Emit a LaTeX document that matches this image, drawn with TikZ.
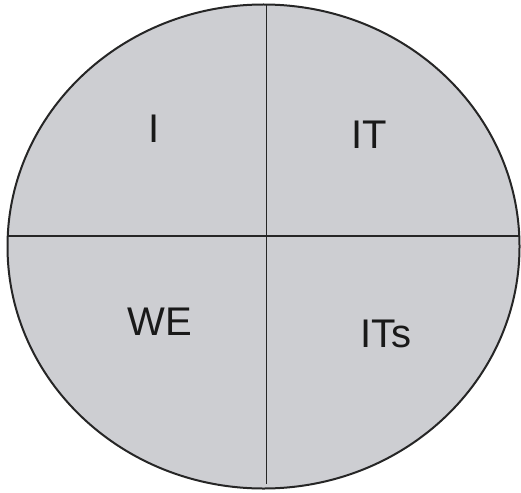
\documentclass[tikz,border=0pt]{standalone}
\usepackage{fontspec}
\setmainfont{Liberation Sans}
\usepackage{tikz}
\definecolor{quadgray}{RGB}{205,206,210}

\begin{document}
\begin{tikzpicture}[x=1pt,y=-1pt]
    \useasboundingbox (0,0) rectangle (521,492);
    \coordinate (O) at (263.5,246.5);
    \coordinate (N) at (266.5,4.5);
    \coordinate (S) at (266.5,484);
    \coordinate (W) at (7.7,236);
    \coordinate (E) at (519.3,236);
    \filldraw[fill=quadgray, draw=black!85, line width=2pt] (O) ellipse [x radius=256, y radius=242];
    \draw[black!85, line width=1.7pt] (N) -- (S);
    \draw[black!85, line width=1.7pt] (W) -- (E);
    \tikzset{quad/.style={font=\fontsize{40}{46}\selectfont, text=black!90, inner sep=0pt}}
    \node[quad] (i) at (154,129) {I};
    \node[quad] (it) at (369,135) {IT};
    \node[quad] (we) at (160,322) {WE};
    \node[quad] (its) at (386,334) {ITs};
\end{tikzpicture}
\end{document}
